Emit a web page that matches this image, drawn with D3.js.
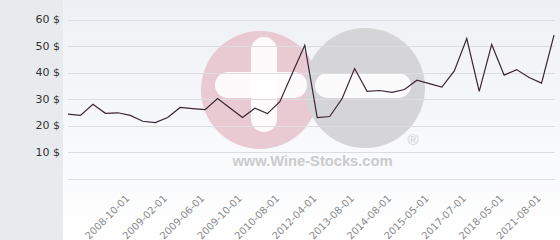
<!DOCTYPE html>
<html>
<head>
<meta charset="utf-8">
<script src="https://cdn.jsdelivr.net/npm/d3@7"></script>
<style>
  html, body { margin: 0; padding: 0; background: #ffffff; }
  svg { display: block; }
</style>
</head>
<body>
<div id="chart"></div>
<script>
// ---- data ----
const prices = [24.3, 23.8, 28.0, 24.6, 24.8, 23.8, 21.6, 21.1, 23.0, 26.8,
                26.4, 26.0, 30.2, 26.6, 23.0, 26.5, 24.5, 29.0, 39.7, 50.3,
                23.0, 23.4, 30.2, 41.5, 32.9, 33.2, 32.5, 33.6, 37.1, 35.8,
                34.5, 40.6, 52.8, 32.9, 50.6, 39.0, 41.1, 38.1, 36.0, 54.1];
const categories = d3.range(prices.length);
const tickLabels = ["2008-10-01", "2009-02-01", "2009-06-01", "2009-10-01",
                    "2010-08-01", "2012-04-01", "2013-08-01", "2014-08-01",
                    "2015-05-01", "2017-07-01", "2018-05-01", "2021-08-01"];
const tickCategory = [4, 7, 10, 13, 16, 19, 22, 25, 28, 31, 34, 37];
const yTicks = [10, 20, 30, 40, 50, 60];
const yGrid = [0, 10, 20, 30, 40, 50, 60];

const W = 560, H = 240;
const svg = d3.select("#chart").append("svg").attr("width", W).attr("height", H);

const defs = svg.append("defs");
const grad = defs.append("linearGradient").attr("id", "bg").attr("x1", 0).attr("y1", 0).attr("x2", 0).attr("y2", 1);
grad.append("stop").attr("offset", "0%").attr("stop-color", "#eef0f5");
grad.append("stop").attr("offset", "100%").attr("stop-color", "#ffffff");

// backgrounds
svg.append("rect").attr("x", 0).attr("y", 0).attr("width", 63).attr("height", H).attr("fill", "#e7ebee");
svg.append("rect").attr("x", 63).attr("y", 0).attr("width", W - 63).attr("height", H).attr("fill", "url(#bg)");

const x = d3.scalePoint().domain(categories).range([68, 554]);
const y = d3.scaleLinear().domain([0, 60]).range([178.5, 19.5]);

// watermark logo
const wm = svg.append("g").attr("class", "watermark");
wm.append("circle").attr("cx", 260).attr("cy", 90).attr("r", 59).attr("fill", "#eacad2");
wm.append("circle").attr("cx", 365).attr("cy", 88).attr("r", 60).attr("fill", "#d5d5d7");
wm.append("rect").attr("x", 251).attr("y", 37).attr("width", 26).attr("height", 95).attr("rx", 13).attr("fill", "#ffffff").attr("opacity", 0.9);
wm.append("rect").attr("x", 215).attr("y", 72).attr("width", 92).attr("height", 26).attr("rx", 13).attr("fill", "#ffffff").attr("opacity", 0.9);
wm.append("rect").attr("x", 315).attr("y", 73).attr("width", 96).attr("height", 25).attr("rx", 12.5).attr("fill", "#ffffff").attr("opacity", 0.9);
wm.append("text").attr("x", 413).attr("y", 145).attr("text-anchor", "middle")
  .attr("font-family", "Liberation Sans, Arial, sans-serif").attr("font-size", 15)
  .attr("fill", "#cfcfcf").text("®");
wm.append("text").attr("x", 312.5).attr("y", 165.5).attr("text-anchor", "middle")
  .attr("font-family", "Liberation Sans, Arial, sans-serif").attr("font-weight", "bold")
  .attr("font-size", 14.7).attr("fill", "#cbcbcb").text("www.Wine-Stocks.com");

// gridlines
svg.append("g").selectAll("line").data(yGrid).join("line")
  .attr("x1", 68).attr("x2", 555)
  .attr("y1", d => Math.round(y(d)) + 0.5).attr("y2", d => Math.round(y(d)) + 0.5)
  .attr("stroke", "#dcdde1").attr("stroke-width", 1);

// y axis labels
const yAxis = d3.axisLeft(y).tickValues(yTicks).tickSize(0).tickPadding(0).tickFormat(d => d + " $");
const yg = svg.append("g").attr("transform", "translate(60,0)").call(yAxis);
yg.select(".domain").remove();
yg.selectAll("text").attr("font-family", "DejaVu Sans, sans-serif").attr("font-size", 11)
  .attr("fill", "#333333").attr("dy", "0.3em");

// x axis labels
const xAxis = d3.axisBottom(x).tickValues(tickCategory).tickSize(0)
  .tickFormat((d, i) => tickLabels[i]);
const xg = svg.append("g").attr("transform", "translate(0,178)").call(xAxis);
xg.select(".domain").remove();
xg.selectAll("text")
  .attr("font-family", "DejaVu Sans, sans-serif").attr("font-size", 10).attr("fill", "#8a8a8a")
  .attr("text-anchor", "end").attr("y", 0).attr("dy", 0)
  .attr("transform", "translate(12,21) rotate(-45)");

// line
const line = d3.line().x((d, i) => x(categories[i])).y(d => y(d));
svg.append("path").datum(prices).attr("d", line)
  .attr("fill", "none").attr("stroke", "#3a2535").attr("stroke-width", 1.2)
  .attr("stroke-linejoin", "miter");
</script>
</body>
</html>
